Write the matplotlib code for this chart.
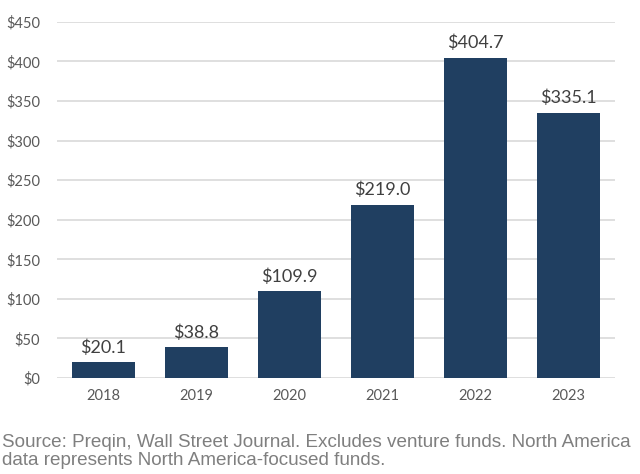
import matplotlib
matplotlib.use('Agg')
import matplotlib.pyplot as plt

years = ['2018', '2019', '2020', '2021', '2022', '2023']
values = [20.1, 38.8, 109.9, 219.0, 404.7, 335.1]
yticks = [0, 50, 100, 150, 200, 250, 300, 350, 400, 450]

fig = plt.figure(figsize=(6.4, 4.74), dpi=100)
ax = fig.add_axes([0.089, 0.2025, 0.872, 0.7515])

bars = ax.bar(range(len(years)), values, width=0.67, color='#203f61', zorder=3)
ax.set_xlim(-0.5, len(years) - 0.5)
ax.set_ylim(0, 450)
ax.set_yticks(yticks)
ax.set_yticklabels([f'${v}' for v in yticks], fontfamily='Lato', fontsize=10.5, color='#595959')
ax.set_xticks(range(len(years)))
ax.set_xticklabels(years, fontfamily='Lato', fontsize=10.5, color='#595959')
ax.tick_params(length=0, pad=8)
ax.tick_params(axis='y', pad=12)
ax.grid(axis='y', color='#d9d9d9', linewidth=1.2, zorder=0)
for s in ax.spines.values():
    s.set_visible(False)

for bar, v in zip(bars, values):
    ax.text(bar.get_x() + bar.get_width() / 2, v + 8, f'${v:.1f}', ha='center', va='bottom',
            fontfamily='Lato', fontsize=13, color='#404040')

fig.text(0.003, 0.048, 'Source: Preqin, Wall Street Journal. Excludes venture funds. North America\n'
         'data represents North America-focused funds.', ha='left', va='center',
         fontfamily='Liberation Sans', fontsize=13.6, color='#7f7f7f', linespacing=1.05)

fig.savefig('out.png', dpi=100)
